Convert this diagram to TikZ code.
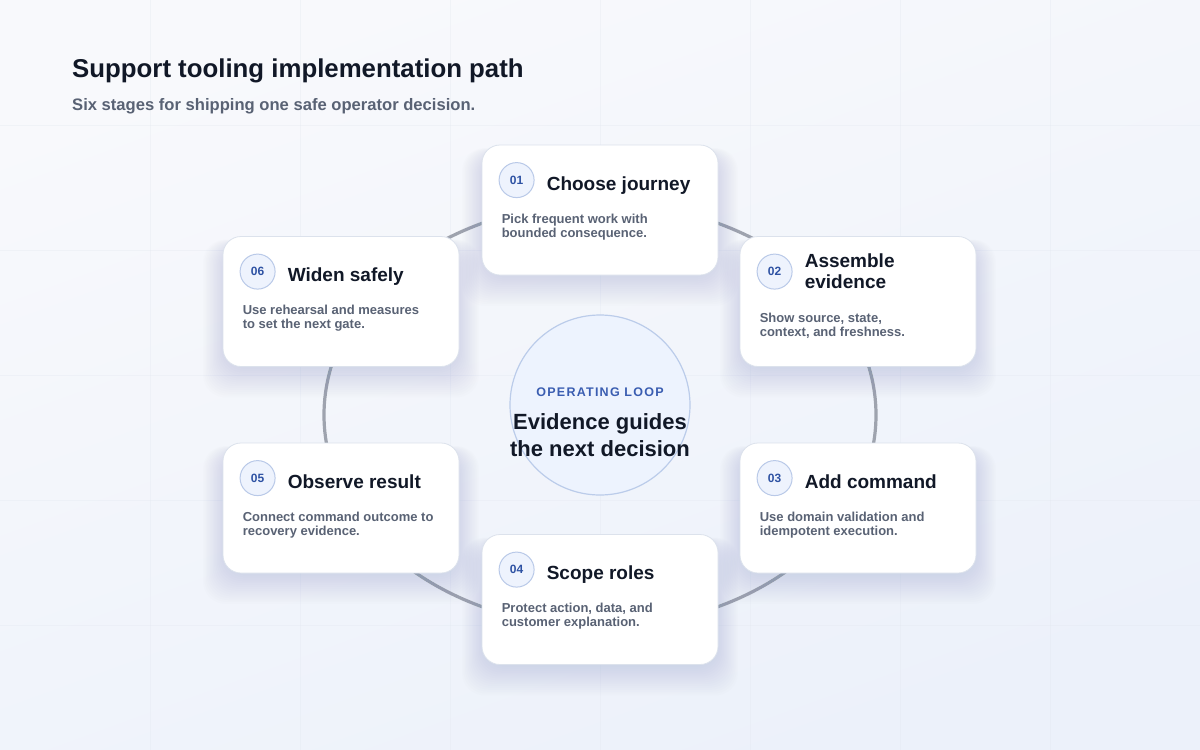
\documentclass[tikz,border=0pt]{standalone}
\usepackage{fontspec}
\setmainfont{Liberation Sans}
\newfontfamily\spacedfont[LetterSpace=10]{Liberation Sans}
\usetikzlibrary{calc}
\definecolor{ink}{HTML}{111827}
\definecolor{muted}{HTML}{596274}
\definecolor{badgeblue}{HTML}{2E52A3}
\definecolor{badgefill}{HTML}{EEF3FD}
\definecolor{badgeline}{HTML}{B9C9E8}
\definecolor{cardline}{HTML}{DCE2EC}
\definecolor{ringgray}{HTML}{9EA3AE}
\definecolor{bgtop}{HTML}{F8F9FC}
\definecolor{bgbot}{HTML}{ECF1FA}
\definecolor{gridc}{HTML}{E3E8F0}
\definecolor{hubfill}{HTML}{EDF3FE}
\definecolor{hubline}{HTML}{BBCCEA}
\definecolor{loopblue}{HTML}{3A5DB1}
\definecolor{shadowc}{HTML}{8E9BB8}
\pgfdeclarelayer{bg}
\pgfdeclarelayer{shadow}
\pgfsetlayers{bg,shadow,main}
\tikzset{
  card/.style={draw=cardline, line width=0.8pt, fill=white, rounded corners=18pt,
    minimum width=236pt, minimum height=130pt, inner sep=0pt},
  badge/.style={circle, draw=badgeline, line width=1pt, fill=badgefill,
    minimum size=35pt, inner sep=0pt, text=badgeblue,
    font=\bfseries\fontsize{12}{14}\selectfont},
  cardtitle/.style={anchor=base west, inner sep=0pt, text=ink,
    font=\bfseries\fontsize{19}{21}\selectfont},
  carddesc/.style={anchor=base west, inner sep=0pt, text=muted,
    font=\bfseries\fontsize{13}{14}\selectfont},
  ring/.style={draw=ringgray, line width=3.2pt},
  gridline/.style={draw=gridc, line width=0.8pt, opacity=0.35},
}
\newcommand\cardshadow[1]{%
  \begin{pgfonlayer}{shadow}
    \foreach \s in {1,...,16}{%
      \fill[shadowc, opacity=0.016, rounded corners=22pt]
        ($(#1.north west)+(-\s*1.4+3,-\s*0.4+10)$) rectangle
        ($(#1.south east)+(\s*1.4-3,\s*1.9)$);
    }
  \end{pgfonlayer}}
\newcommand\stagecard[7]{%
  \node[card] (#1) at (#2,#3) {};
  \cardshadow{#1}
  \node[badge] (#1num) at ($(#1.north west)+(35,35.5)$) {#4};
  \node[cardtitle] (#1title) at ($(#1.north west)+(65,45.5)$) {#5};
  \node[carddesc] (#1da) at ($(#1.north west)+(20,78.5)$) {#6};
  \node[carddesc] (#1db) at ($(#1.north west)+(20,92.5)$) {#7};
}
\begin{document}
\begin{tikzpicture}[x=1pt,y=-1pt]
\useasboundingbox (0,0) rectangle (1200,750);
\begin{pgfonlayer}{bg}
  \shade[shading=axis, top color=bgtop, bottom color=bgbot, shading angle=20]
    (0,0) rectangle (1200,750);
  \foreach \gx in {150,300,...,1050} \draw[gridline] (\gx,0) -- (\gx,750);
  \foreach \gy in {125,250,...,625} \draw[gridline] (0,\gy) -- (1200,\gy);
\end{pgfonlayer}

% title
\node[anchor=base west, inner sep=0pt, text=ink, font=\bfseries\fontsize{25.8}{30}\selectfont]
  (title) at (72,77) {Support tooling implementation path};
\node[anchor=base west, inner sep=0pt, text=muted, font=\bfseries\fontsize{16.6}{20}\selectfont]
  (subtitle) at (72,110) {Six stages for shipping one safe operator decision.};

% hub
\node[circle, minimum size=180pt, inner sep=0pt, fill=hubfill, draw=hubline, line width=1.2pt]
  (hub) at (600,405) {};
\node[anchor=base, inner sep=0pt, text=loopblue, font=\spacedfont\bfseries\fontsize{12.5}{14}\selectfont]
  (hublabel) at (600,396.5) {OPERATING LOOP};
\node[anchor=base, inner sep=0pt, text=ink, font=\bfseries\fontsize{22}{26}\selectfont]
  (hubla) at (600,429.5) {Evidence guides};
\node[anchor=base, inner sep=0pt, text=ink, font=\bfseries\fontsize{22}{26}\selectfont]
  (hublb) at (600,456.5) {the next decision};

% ring
\begin{pgfonlayer}{bg}
  \draw[ring] ($(hub.center)+(0,10)$) ellipse [x radius=276, y radius=212];
\end{pgfonlayer}

% cards
\stagecard{c1}{600}{210}{01}{Choose journey}{Pick frequent work with}{bounded consequence.}
\node[card] (c2) at (858,301.5) {};
\cardshadow{c2}
\node[badge] (c2num) at ($(c2.north west)+(35,35.5)$) {02};
\node[cardtitle] (c2ta) at ($(c2.north west)+(65,31)$) {Assemble};
\node[cardtitle] (c2tb) at ($(c2.north west)+(65,52)$) {evidence};
\node[carddesc] (c2da) at ($(c2.north west)+(20,86)$) {Show source, state,};
\node[carddesc] (c2db) at ($(c2.north west)+(20,100)$) {context, and freshness.};
\stagecard{c3}{858}{508}{03}{Add command}{Use domain validation and}{idempotent execution.}
\stagecard{c4}{600}{599.5}{04}{Scope roles}{Protect action, data, and}{customer explanation.}
\stagecard{c5}{341}{508}{05}{Observe result}{Connect command outcome to}{recovery evidence.}
\stagecard{c6}{341}{301.5}{06}{Widen safely}{Use rehearsal and measures}{to set the next gate.}
\end{tikzpicture}
\end{document}
